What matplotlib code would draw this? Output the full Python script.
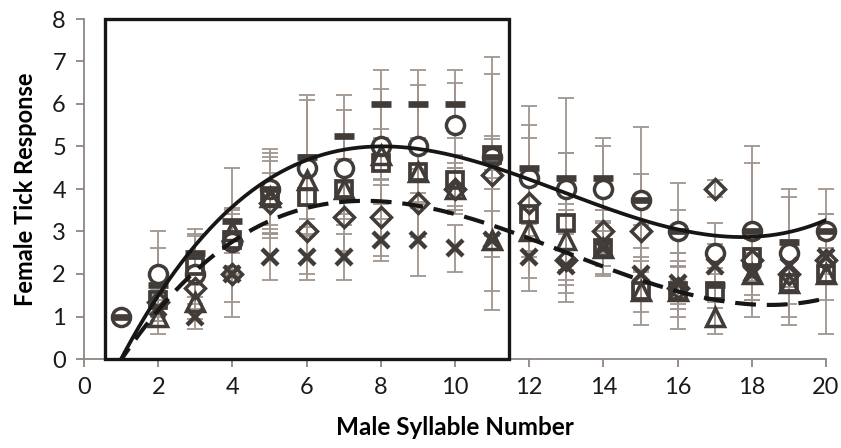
import numpy as np
import matplotlib.pyplot as plt
from matplotlib.patches import Rectangle

plt.rcParams['font.family'] = ['Lato', 'DejaVu Sans']

syllables = np.arange(1, 21)

# mean female tick response per male syllable, one list per song group (nan = no value)
nan = np.nan
circle_mean = [1.0, 2.0, 2.0, 2.75, 4.0, 4.5, 4.5, 5.0, 5.0, 5.5, 4.75, 4.25, 4.0, 4.0, 3.75, 3.0, 2.5, 3.0, 2.5, 3.0]
bar_mean = [1.0, 1.75, 2.5, 3.25, 4.0, 4.75, 5.25, 6.0, 6.0, 6.0, 4.75, 4.5, 4.25, 4.25, 3.75, 3.0, 1.75, 3.0, 2.75, 3.0]
square_mean = [nan, 1.4, 2.2, 2.8, 3.8, 3.8, 4.0, 4.6, 4.4, 4.2, 4.8, 3.4, 3.2, 2.6, 1.6, 1.6, 1.6, 2.4, 1.8, 2.0]
triangle_mean = [nan, 1.0, 1.33, 3.0, 3.8, 4.2, 4.0, 4.8, 4.4, 4.0, 2.8, 3.0, 2.8, 2.6, 1.6, 1.6, 1.0, 2.0, 1.8, 2.0]
diamond_mean = [nan, 1.33, 1.67, 2.0, 3.67, 3.0, 3.33, 3.33, 3.67, 4.0, 4.33, 3.67, 2.33, 3.0, 3.0, 1.67, 4.0, 2.33, 2.0, 2.33]
cross_mean = [nan, 1.2, 1.0, 2.0, 2.4, 2.4, 2.4, 2.8, 2.8, 2.6, 2.8, 2.4, 2.2, 2.6, 2.0, 1.8, 2.2, 2.0, 2.2, 2.4]

# standard errors
circle_err = [0.0, 1.0, 0.9, 0.8, 0.95, 1.6, 1.35, 1.35, 1.45, 1.0, 2.35, 1.7, 2.15, 1.2, 1.7, 1.15, 0.7, 2.0, 1.5, 1.0]
bar_err = [0.0, 0.85, 0.55, 1.25, 0.85, 1.45, 0.95, 0.8, 0.8, 0.8, 0.5, 1.0, 0.6, 0.75, 0.6, 0.5, 0.4, 1.6, 1.05, 0.4]
square_err = [nan, 0.5, 0.75, 0.6, 0.95, 0.7, 0.6, 0.5, 0.7, 0.6, 1.9, 1.8, 1.65, 0.6, 0.8, 0.9, 0.4, 0.5, 1.0, 1.4]
triangle_err = [nan, 0.4, 0.4, 0.5, 0.85, 0.6, 0.7, 0.6, 0.5, 0.6, 1.2, 0.6, 0.7, 0.4, 0.5, 0.6, 0.4, 0.5, 0.5, 0.6]
diamond_err = [nan, 0.3, 0.5, 1.0, 0.7, 1.0, 0.8, 0.9, 0.8, 0.5, 0.85, 0.5, 0.6, 0.5, 0.7, 0.5, 0.2, 0.5, 0.4, 0.5]
cross_err = [nan, 0.3, 0.3, 0.65, 0.55, 0.55, 0.55, 0.5, 0.85, 0.55, 1.65, 0.5, 0.85, 0.65, 0.6, 0.5, 0.5, 0.6, 0.5, 0.6]

# cubic trend lines (highest power first)
solid_fit = [0.0046746, -0.180778, 2.000438, -1.824335]
dashed_fit = [0.00378, -0.1476548, 1.585632, -1.460885]

mark_col = '#423c39'
err_col = '#a0958f'
axis_col = '#8e8681'

fig = plt.figure(figsize=(8.41, 4.48), dpi=100)
ax = fig.add_axes([84 / 841, 1 - 359 / 448, 742 / 841, 340 / 448])

series = [
    (circle_mean, circle_err, 'o', 13, 'white', 2.5),
    (square_mean, square_err, 's', 12, 'none', 2.7),
    (triangle_mean, triangle_err, '^', 12.5, 'none', 2.5),
    (diamond_mean, diamond_err, 'D', 10.5, 'none', 2.5),
    (cross_mean, cross_err, 'x', 11.5, 'none', 3.2),
    (bar_mean, bar_err, '_', 15, 'none', 4.8),
]

# error bars underneath every marker
for mean, err, *_ in series:
    ax.errorbar(syllables, mean, yerr=err, fmt='none', ecolor=err_col,
                elinewidth=1.3, capsize=5.5, capthick=1.3, zorder=2, clip_on=False)

for i, (mean, err, mk, ms, fc, mew) in enumerate(series):
    ax.plot(syllables, mean, linestyle='none', marker=mk, markersize=ms,
            markerfacecolor=fc, markeredgecolor=mark_col, markeredgewidth=mew,
            zorder=3 + i, clip_on=False)

xs = np.linspace(0.9, 20, 300)
ax.plot(xs, np.polyval(solid_fit, xs), color='#161616', lw=2.7, zorder=10)
ax.plot(xs, np.polyval(dashed_fit, xs), color='#161616', lw=3.0,
        linestyle=(0, (5, 2.6)), zorder=10)

ax.add_patch(Rectangle((0.57, 0), 10.88, 8, fill=False, edgecolor='#161616',
                       lw=2.4, zorder=11, clip_on=False))

ax.set_xlim(0, 20)
ax.set_ylim(0, 8)
ax.set_xticks(range(0, 21, 2))
ax.set_yticks(range(0, 9))
for side in ('top', 'right'):
    ax.spines[side].set_visible(False)
for side in ('left', 'bottom'):
    ax.spines[side].set_color(axis_col)
    ax.spines[side].set_linewidth(1.3)
ax.tick_params(axis='both', colors=axis_col, width=1.3, length=6, labelsize=17,
               labelcolor='#1a1a1a')
ax.tick_params(axis='x', pad=7)
ax.tick_params(axis='y', pad=7)

ax.set_xlabel('Male Syllable Number', fontsize=17.5, fontweight='bold', labelpad=13)
ax.set_ylabel('Female Tick Response', fontsize=17, fontweight='bold', labelpad=11)

fig.savefig('out.png', dpi=100)
